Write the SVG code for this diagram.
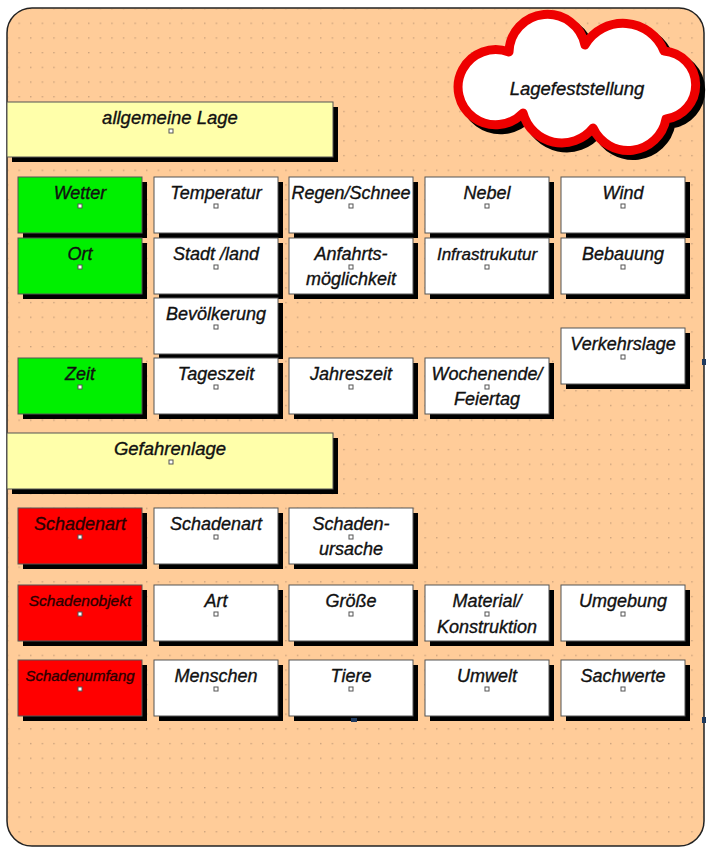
<svg xmlns="http://www.w3.org/2000/svg" width="706" height="848" viewBox="0 0 706 848">
<defs>
<pattern id="dots" width="11.6" height="14.7" patternUnits="userSpaceOnUse" x="2" y="3">
<rect x="5" y="5" width="1.2" height="1.2" fill="#b89272"/>
</pattern>
<path id="cloudshape" d="M523,113 A37.6,37.6 0 1 1 509,52 A38.4,38.4 0 0 1 585,45 A44.2,44.2 0 0 1 664,51 A34.2,34.2 0 0 1 666,119 A38.6,38.6 0 0 1 593,128 A40.1,40.1 0 0 1 523,113 Z"/>
<style>
.sh{fill:#000}
.box{stroke:#555;stroke-width:1}
.w{fill:#fff}
.g{fill:#00f000}
.r{fill:#ff0000}
.y{fill:#ffffaa}
.m{fill:#fff;stroke:#555;stroke-width:1}
text{font-family:"Liberation Sans","DejaVu Sans",sans-serif;font-style:italic;font-size:18px;text-anchor:middle;fill:#111;stroke:#111;stroke-width:0.35}
.rt{fill:#2a0000;stroke:#2a0000}
.hd{font-size:18.5px}
.cl{font-size:18.5px}
.h{fill:#1f3a5f}
</style>
</defs>
<rect x="0" y="0" width="706" height="848" fill="#fff"/>
<g id="background">
<rect x="7" y="8" width="697" height="838" rx="25" fill="#ffcc99" stroke="#222" stroke-width="1.5"/>
<rect x="8" y="9" width="695" height="836" rx="24" fill="url(#dots)"/>
</g>
<g id="cloud">
<use href="#cloudshape" transform="translate(5,5)" fill="#000" stroke="#000" stroke-width="9" stroke-linejoin="round"/>
<use href="#cloudshape" fill="#fff" stroke="#ee0000" stroke-width="9" stroke-linejoin="round"/>
<text class="cl" x="577" y="95">Lagefeststellung</text>
</g>
<g id="allgemeine-lage">
<rect class="sh" x="12" y="107" width="326" height="55"/>
<rect class="box y" x="7" y="102" width="326" height="55"/>
<text class="hd" x="170" y="124">allgemeine Lage</text>
<rect class="m" x="169" y="129" width="4" height="4"/>
</g>
<g id="wetter"><rect class="sh" x="23" y="182" width="124" height="56"/><rect class="box g" x="18" y="177" width="124" height="56"/><text x="80" y="199">Wetter</text><rect class="m" x="78" y="204" width="4" height="4"/></g>
<g id="temperatur"><rect class="sh" x="159" y="182" width="124" height="56"/><rect class="box w" x="154" y="177" width="124" height="56"/><text x="216" y="199">Temperatur</text><rect class="m" x="214" y="204" width="4" height="4"/></g>
<g id="regen"><rect class="sh" x="294" y="182" width="124" height="56"/><rect class="box w" x="289" y="177" width="124" height="56"/><text x="351" y="199">Regen/Schnee</text><rect class="m" x="349" y="204" width="4" height="4"/></g>
<g id="nebel"><rect class="sh" x="430" y="182" width="124" height="56"/><rect class="box w" x="425" y="177" width="124" height="56"/><text x="487" y="199">Nebel</text><rect class="m" x="485" y="204" width="4" height="4"/></g>
<g id="wind"><rect class="sh" x="566" y="182" width="124" height="56"/><rect class="box w" x="561" y="177" width="124" height="56"/><text x="623" y="199">Wind</text><rect class="m" x="621" y="204" width="4" height="4"/></g>
<g id="ort"><rect class="sh" x="23" y="243" width="124" height="56"/><rect class="box g" x="18" y="238" width="124" height="56"/><text x="80" y="260">Ort</text><rect class="m" x="78" y="265" width="4" height="4"/></g>
<g id="stadt"><rect class="sh" x="159" y="243" width="124" height="56"/><rect class="box w" x="154" y="238" width="124" height="56"/><text x="216" y="260">Stadt /land</text><rect class="m" x="214" y="265" width="4" height="4"/></g>
<g id="anfahrt"><rect class="sh" x="294" y="243" width="124" height="56"/><rect class="box w" x="289" y="238" width="124" height="56"/><text x="351" y="260">Anfahrts-</text><text x="351" y="285">möglichkeit</text><rect class="m" x="349" y="265" width="4" height="4"/></g>
<g id="infra"><rect class="sh" x="430" y="243" width="124" height="56"/><rect class="box w" x="425" y="238" width="124" height="56"/><text x="487" y="260" style="font-size:17px">Infrastrukutur</text><rect class="m" x="485" y="265" width="4" height="4"/></g>
<g id="bebauung"><rect class="sh" x="566" y="243" width="124" height="56"/><rect class="box w" x="561" y="238" width="124" height="56"/><text x="623" y="260">Bebauung</text><rect class="m" x="621" y="265" width="4" height="4"/></g>
<g id="bevoelkerung"><rect class="sh" x="159" y="303" width="124" height="56"/><rect class="box w" x="154" y="298" width="124" height="56"/><text x="216" y="320">Bevölkerung</text><rect class="m" x="214" y="325" width="4" height="4"/></g>
<g id="verkehrslage"><rect class="sh" x="566" y="333" width="124" height="56"/><rect class="box w" x="561" y="328" width="124" height="56"/><text x="623" y="350">Verkehrslage</text><rect class="m" x="621" y="355" width="4" height="4"/></g>
<g id="zeit"><rect class="sh" x="23" y="363" width="124" height="56"/><rect class="box g" x="18" y="358" width="124" height="56"/><text x="80" y="380">Zeit</text><rect class="m" x="78" y="385" width="4" height="4"/></g>
<g id="tageszeit"><rect class="sh" x="159" y="363" width="124" height="56"/><rect class="box w" x="154" y="358" width="124" height="56"/><text x="216" y="380">Tageszeit</text><rect class="m" x="214" y="385" width="4" height="4"/></g>
<g id="jahreszeit"><rect class="sh" x="294" y="363" width="124" height="56"/><rect class="box w" x="289" y="358" width="124" height="56"/><text x="351" y="380">Jahreszeit</text><rect class="m" x="349" y="385" width="4" height="4"/></g>
<g id="wochenende"><rect class="sh" x="430" y="363" width="124" height="56"/><rect class="box w" x="425" y="358" width="124" height="56"/><text x="487" y="380">Wochenende/</text><text x="487" y="405">Feiertag</text><rect class="m" x="485" y="385" width="4" height="4"/></g>
<g id="gefahrenlage">
<rect class="sh" x="12" y="438" width="326" height="56"/>
<rect class="box y" x="7" y="433" width="326" height="56"/>
<text class="hd" x="170" y="455">Gefahrenlage</text>
<rect class="m" x="169" y="460" width="4" height="4"/>
</g>
<g id="schadenart-kat"><rect class="sh" x="23" y="513" width="124" height="56"/><rect class="box r" x="18" y="508" width="124" height="56"/><text class="rt" x="80" y="530">Schadenart</text><rect class="m" x="78" y="535" width="4" height="4"/></g>
<g id="schadenart"><rect class="sh" x="159" y="513" width="124" height="56"/><rect class="box w" x="154" y="508" width="124" height="56"/><text x="216" y="530">Schadenart</text><rect class="m" x="214" y="535" width="4" height="4"/></g>
<g id="schadenursache"><rect class="sh" x="294" y="513" width="124" height="56"/><rect class="box w" x="289" y="508" width="124" height="56"/><text x="351" y="530">Schaden-</text><text x="351" y="555">ursache</text><rect class="m" x="349" y="535" width="4" height="4"/></g>
<g id="schadenobjekt"><rect class="sh" x="23" y="590" width="124" height="56"/><rect class="box r" x="18" y="585" width="124" height="56"/><text class="rt" x="80" y="606" style="font-size:15.5px">Schadenobjekt</text><rect class="m" x="78" y="612" width="4" height="4"/></g>
<g id="art"><rect class="sh" x="159" y="590" width="124" height="56"/><rect class="box w" x="154" y="585" width="124" height="56"/><text x="216" y="607">Art</text><rect class="m" x="214" y="612" width="4" height="4"/></g>
<g id="groesse"><rect class="sh" x="294" y="590" width="124" height="56"/><rect class="box w" x="289" y="585" width="124" height="56"/><text x="351" y="607">Größe</text><rect class="m" x="349" y="612" width="4" height="4"/></g>
<g id="material"><rect class="sh" x="430" y="590" width="124" height="56"/><rect class="box w" x="425" y="585" width="124" height="56"/><text x="487" y="607">Material/</text><text x="487" y="633">Konstruktion</text><rect class="m" x="485" y="612" width="4" height="4"/></g>
<g id="umgebung"><rect class="sh" x="566" y="590" width="124" height="56"/><rect class="box w" x="561" y="585" width="124" height="56"/><text x="623" y="607">Umgebung</text><rect class="m" x="621" y="612" width="4" height="4"/></g>
<g id="schadenumfang"><rect class="sh" x="23" y="665" width="124" height="56"/><rect class="box r" x="18" y="660" width="124" height="56"/><text class="rt" x="80" y="681" style="font-size:15px">Schadenumfang</text><rect class="m" x="78" y="687" width="4" height="4"/></g>
<g id="menschen"><rect class="sh" x="159" y="665" width="124" height="56"/><rect class="box w" x="154" y="660" width="124" height="56"/><text x="216" y="682">Menschen</text><rect class="m" x="214" y="687" width="4" height="4"/></g>
<g id="tiere"><rect class="sh" x="294" y="665" width="124" height="56"/><rect class="box w" x="289" y="660" width="124" height="56"/><text x="351" y="682">Tiere</text><rect class="m" x="349" y="687" width="4" height="4"/></g>
<g id="umwelt"><rect class="sh" x="430" y="665" width="124" height="56"/><rect class="box w" x="425" y="660" width="124" height="56"/><text x="487" y="682">Umwelt</text><rect class="m" x="485" y="687" width="4" height="4"/></g>
<g id="sachwerte"><rect class="sh" x="566" y="665" width="124" height="56"/><rect class="box w" x="561" y="660" width="124" height="56"/><text x="623" y="682">Sachwerte</text><rect class="m" x="621" y="687" width="4" height="4"/></g>
<g id="connectors"></g>
<g id="handles">
<rect class="h" x="351" y="718" width="6" height="4"/>
<rect class="h" x="702" y="359" width="4" height="6"/>
<rect class="h" x="702" y="717" width="4" height="6"/>
</g>
</svg>
